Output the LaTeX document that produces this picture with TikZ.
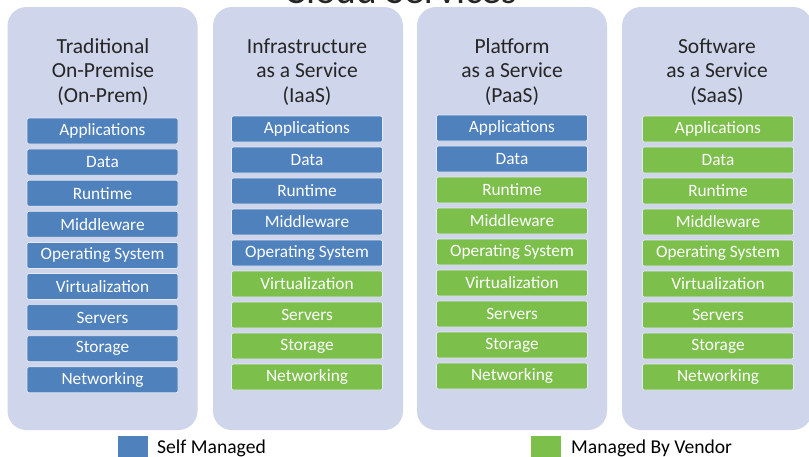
\documentclass[tikz,border=0pt]{standalone}
\usepackage{fontspec}
\setmainfont{Carlito}
\definecolor{panelc}{HTML}{CFD5EA}
\definecolor{selfc}{HTML}{4F81BD}
\definecolor{vendc}{HTML}{7CBF4B}
\definecolor{edgec}{HTML}{E4EAF4}
\definecolor{headc}{HTML}{262626}
\begin{document}
\begin{tikzpicture}[x=1pt,y=-1pt,
  panel/.style={fill=panelc, draw=none, rounded corners=19pt, minimum width=190pt, minimum height=423pt, inner sep=0pt},
  head/.style={align=center, text=headc, font=\fontsize{21.5}{24.5}\selectfont, inner sep=0pt},
  layer/.style={minimum width=151pt, minimum height=26pt, inner sep=0pt, draw=edgec, line width=0.7pt, rounded corners=2pt, text=white, font=\fontsize{17.3}{20}\selectfont},
  self/.style={layer, fill=selfc},
  vend/.style={layer, fill=vendc},
  legbox/.style={minimum width=30pt, minimum height=30pt, inner sep=0pt, draw=none},
  legtext/.style={font=\fontsize{19.6}{22}\selectfont, text=black, inner sep=0pt, anchor=base west}
]
\useasboundingbox (0,0) rectangle (809,456);
\clip (0,0) rectangle (809,456);
\fill[white] (0,0) rectangle (809,456);

% title (cut off at top)
\node[font=\fontsize{39.5}{42}\selectfont, text=headc, anchor=base, inner sep=0pt] (title) at (401,3.5) {Cloud Services};

% panels
\node[panel] (p1) at (102.5,218.5) {};
\node[panel] (p2) at (308,218.5) {};
\node[panel] (p3) at (512,218.5) {};
\node[panel] (p4) at (717,218.5) {};

% headings
\node[head] (h1) at (103,72) {Traditional\\On-Premise\\(On-Prem)};
\node[head] (h2) at (307,72) {Infrastructure\\as a Service\\(IaaS)};
\node[head] (h3) at (512,72) {Platform\\as a Service\\(PaaS)};
\node[head] (h4) at (717,72) {Software\\as a Service\\(SaaS)};

% column 1
\foreach \t/\s [count=\i] in {Applications/self, Data/self, Runtime/self, Middleware/self, Operating System/self, Virtualization/self, Servers/self, Storage/self, Networking/self}
  \node[\s] (a\i) at (102.5,{131+31.1*(\i-1)}) {\t};
% column 2
\foreach \t/\s [count=\i] in {Applications/self, Data/self, Runtime/self, Middleware/self, Operating System/self, Virtualization/vend, Servers/vend, Storage/vend, Networking/vend}
  \node[\s] (b\i) at (307,{129+31*(\i-1)}) {\t};
% column 3
\foreach \t/\s [count=\i] in {Applications/self, Data/self, Runtime/vend, Middleware/vend, Operating System/vend, Virtualization/vend, Servers/vend, Storage/vend, Networking/vend}
  \node[\s] (c\i) at (512,{128+31*(\i-1)}) {\t};
% column 4
\foreach \t/\s [count=\i] in {Applications/vend, Data/vend, Runtime/vend, Middleware/vend, Operating System/vend, Virtualization/vend, Servers/vend, Storage/vend, Networking/vend}
  \node[\s] (d\i) at (718,{129+31*(\i-1)}) {\t};

% legend
\node[legbox, fill=selfc] (ls) at (133,451) {};
\node[legtext] (lst) at (157,453) {Self Managed};
\node[legbox, fill=vendc] (lv) at (546,451) {};
\node[legtext] (lvt) at (571,453) {Managed By Vendor};
\end{tikzpicture}
\end{document}
